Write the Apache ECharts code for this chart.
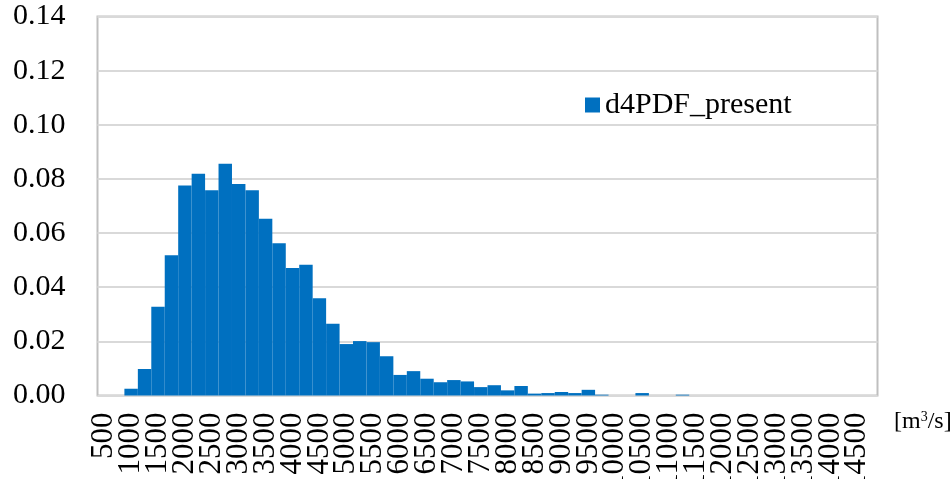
<!DOCTYPE html>
<html>
<head>
<meta charset="utf-8">
<script src="https://cdn.jsdelivr.net/npm/echarts@6/dist/echarts.min.js"></script>
<style>
  html, body { margin: 0; padding: 0; background: #ffffff; }
  #chart { width: 951px; height: 479px; }
</style>
</head>
<body>
<div id="chart"></div>
<script>
// Discharge bins (lower bound, m3/s), 250 m3/s wide
const binStarts = [
  '500', '750', '1000', '1250', '1500', '1750', '2000', '2250', '2500', '2750',
  '3000', '3250', '3500', '3750', '4000', '4250', '4500', '4750', '5000', '5250',
  '5500', '5750', '6000', '6250', '6500', '6750', '7000', '7250', '7500', '7750',
  '8000', '8250', '8500', '8750', '9000', '9250', '9500', '9750', '10000', '10250',
  '10500', '10750', '11000', '11250', '11500', '11750', '12000', '12250', '12500', '12750',
  '13000', '13250', '13500', '13750', '14000', '14250', '14500', '14750'
];

// Relative frequency of annual maximum discharge, d4PDF present climate
const presentFreq = [
  0, 0, 0.0025, 0.0098, 0.0328, 0.0518, 0.0776, 0.0819, 0.0758, 0.0856,
  0.0781, 0.0758, 0.0653, 0.0562, 0.0471, 0.0483, 0.0359, 0.0265, 0.0190, 0.0201,
  0.0197, 0.0145, 0.0076, 0.0090, 0.0062, 0.0049, 0.0057, 0.0052, 0.0031, 0.0038,
  0.0019, 0.0035, 0.0007, 0.0009, 0.0013, 0.0009, 0.0021, 0.0003, 0, 0,
  0.0009, 0, 0, 0.0003, 0, 0, 0, 0, 0, 0,
  0, 0, 0, 0, 0, 0, 0, 0
];

const seriesName = 'd4PDF_present';
const unitLabel = 'm';

const serif = '"Liberation Serif", "DejaVu Serif", serif';

const chart = echarts.init(document.getElementById('chart'), null, { renderer: 'canvas' });

chart.setOption({
  animation: false,
  backgroundColor: '#ffffff',
  grid: {
    left: 97.5,
    right: 73.5,
    top: 16.5,
    bottom: 83.5,
    containLabel: false,
    outerBoundsMode: 'none',
    show: true,
    borderColor: '#bfbfbf',
    borderWidth: 2,
    backgroundColor: 'transparent'
  },
  legend: {
    left: 580,
    top: 85,
    icon: 'rect',
    itemWidth: 15,
    itemHeight: 15,
    itemGap: 10,
    textStyle: { fontFamily: serif, fontSize: 30, color: '#000000' },
    data: [seriesName]
  },
  xAxis: {
    type: 'category',
    data: binStarts,
    boundaryGap: true,
    axisLine: { show: false },
    axisTick: { show: false },
    splitLine: { show: false },
    axisLabel: {
      // every other bin boundary carries a label
      interval: 0,
      formatter: (value, idx) => (idx % 2 === 0 ? value : ''),
      rotate: 90,
      align: 'right',
      verticalAlign: 'middle',
      margin: 17,
      hideOverlap: false,
      lineHeight: 22,
      fontFamily: serif,
      fontSize: 31,
      color: '#000000'
    }
  },
  yAxis: {
    type: 'value',
    min: 0,
    max: 0.14,
    interval: 0.02,
    axisLine: { show: false },
    axisTick: { show: false },
    splitLine: { lineStyle: { color: '#d9d9d9', width: 2 } },
    axisLabel: {
      margin: 32,
      fontFamily: serif,
      fontSize: 30,
      color: '#000000',
      formatter: v => v.toFixed(2)
    }
  },
  graphic: [{
    type: 'text',
    left: 894,
    top: 410,
    style: {
      text: '{a|[' + unitLabel + '}{s|3}{a|/s]}',
      rich: {
        a: { fontFamily: serif, fontSize: 24, color: '#000000' },
        s: { fontFamily: serif, fontSize: 14, color: '#000000', verticalAlign: 'top', padding: [0, 0, 9, 0] }
      }
    }
  }],
  series: [{
    name: seriesName,
    type: 'bar',
    data: presentFreq,
    barCategoryGap: '0%',
    itemStyle: {
      color: '#0070C0'
    }
  }]
});
</script>
</body>
</html>
